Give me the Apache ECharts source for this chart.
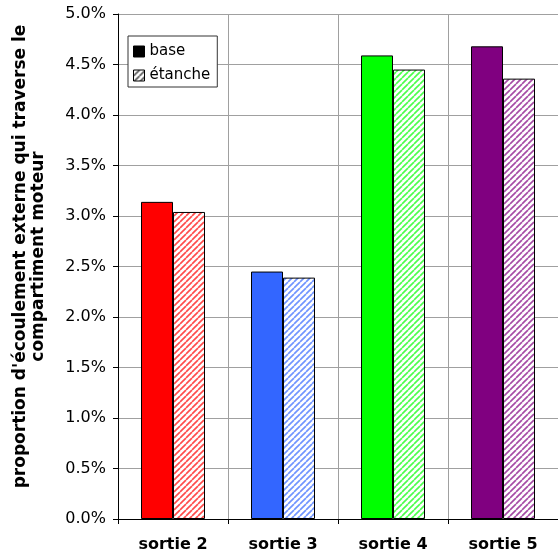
<!DOCTYPE html>
<html>
<head>
<meta charset="utf-8">
<script src="https://cdn.jsdelivr.net/npm/echarts@6/dist/echarts.min.js"></script>
<style>
  html, body { margin: 0; padding: 0; background: #fff; }
  #chart { width: 558px; height: 560px; }
</style>
</head>
<body>
<div id="chart"></div>
<script>
// ---- data ----
var categories = ['sortie 2', 'sortie 3', 'sortie 4', 'sortie 5'];
var seriesNames = ['base', 'étanche'];
var baseValues = [3.14, 2.45, 4.59, 4.68];
var etancheValues = [3.04, 2.39, 4.45, 4.36];
var barColors = ['#ff0000', '#3366ff', '#00ff00', '#800080'];
var yTickMin = 0, yTickMax = 5, yTickStep = 0.5;

function makeHatch(color, alpha) {
  var s = 6;
  var c = document.createElement('canvas');
  c.width = s; c.height = s;
  var ctx = c.getContext('2d');
  ctx.fillStyle = '#ffffff';
  ctx.fillRect(0, 0, s, s);
  ctx.globalAlpha = alpha;
  ctx.strokeStyle = color;
  ctx.lineWidth = 1.7;
  for (var k = -s; k <= s; k += s) {
    ctx.beginPath();
    ctx.moveTo(k, s);
    ctx.lineTo(k + s, 0);
    ctx.stroke();
  }
  return { image: c, repeat: 'repeat' };
}

var chart = echarts.init(document.getElementById('chart'));

var baseData = baseValues.map(function (v, i) {
  return { value: v, itemStyle: { color: barColors[i] } };
});
var etancheData = etancheValues.map(function (v, i) {
  return { value: v, itemStyle: { color: makeHatch(barColors[i], 0.7) } };
});

var option = {
  animation: false,
  backgroundColor: '#ffffff',
  textStyle: { fontFamily: 'DejaVu Sans' },
  grid: { left: 118, right: -4, top: 14, bottom: 41, containLabel: false },
  legend: {
    orient: 'vertical',
    left: 128,
    top: 36,
    padding: [8, 7, 4, 5],
    itemGap: 9,
    itemWidth: 11,
    itemHeight: 11,
    icon: 'rect',
    backgroundColor: '#ffffff',
    borderColor: '#333333',
    borderWidth: 1,
    borderRadius: 0,
    textStyle: { fontFamily: 'DejaVu Sans', fontSize: 15, color: '#000' },
    data: [
      { name: seriesNames[0], itemStyle: { color: '#000000', borderColor: '#000', borderWidth: 1 } },
      { name: seriesNames[1], itemStyle: { color: makeHatch('#333333', 0.8), borderColor: '#000', borderWidth: 1 } }
    ]
  },
  xAxis: {
    type: 'category',
    data: categories,
    axisLine: { show: true, lineStyle: { color: '#000', width: 1 } },
    axisTick: { show: true, length: 5, lineStyle: { color: '#000' } },
    axisLabel: { fontFamily: 'DejaVu Sans', fontWeight: 'bold', fontSize: 16, color: '#000', margin: 18 },
    splitLine: { show: true, interval: 0, lineStyle: { color: '#a0a0a0', width: 1 } }
  },
  yAxis: {
    type: 'value',
    min: yTickMin,
    max: yTickMax,
    interval: yTickStep,
    name: "proportion d'écoulement externe qui traverse le\ncompartiment moteur",
    nameLocation: 'middle',
    nameGap: 70,
    nameTextStyle: {
      fontFamily: 'DejaVu Sans', fontWeight: 'bold', fontSize: 17, lineHeight: 18,
      color: '#000', padding: [0, 0, 0, 20]
    },
    axisLine: { show: true, lineStyle: { color: '#000', width: 1 } },
    axisTick: { show: true, length: 5, lineStyle: { color: '#000' } },
    axisLabel: {
      fontFamily: 'DejaVu Sans', fontSize: 16, color: '#000', margin: 12,
      formatter: function (v) { return v.toFixed(1) + '%'; }
    },
    splitLine: { show: true, lineStyle: { color: '#a0a0a0', width: 1 } }
  },
  series: [
    {
      name: seriesNames[0],
      type: 'bar',
      barWidth: 32,
      barGap: '0%',
      itemStyle: { color: '#000000', borderColor: '#000', borderWidth: 1 },
      emphasis: { disabled: true },
      data: baseData
    },
    {
      name: seriesNames[1],
      type: 'bar',
      barWidth: 32,
      barGap: '0%',
      itemStyle: { color: makeHatch('#333333', 0.8), borderColor: '#000', borderWidth: 1 },
      emphasis: { disabled: true },
      data: etancheData
    }
  ]
};
chart.setOption(option);
</script>
</body>
</html>
